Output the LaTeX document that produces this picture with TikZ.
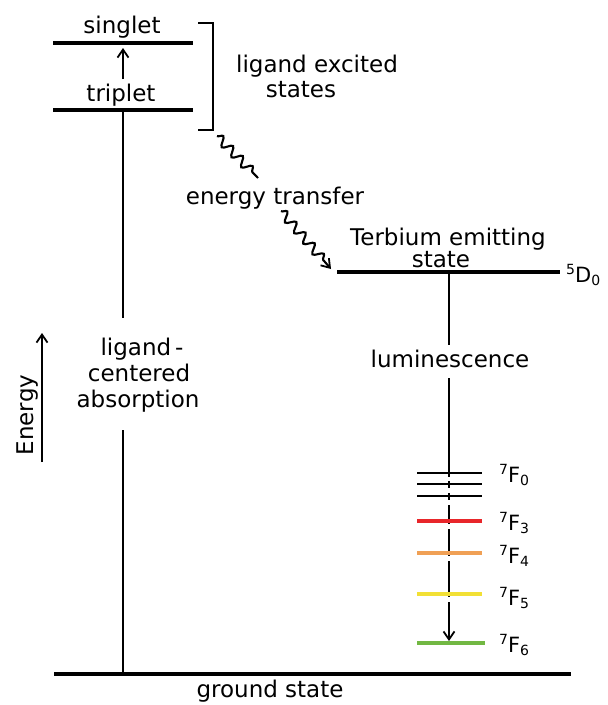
\documentclass[tikz,border=0pt]{standalone}
\usepackage{fontspec}
\setmainfont{DejaVu Sans}
\usetikzlibrary{arrows.meta,decorations.pathmorphing}
\definecolor{lvred}{HTML}{E8262A}
\definecolor{lvorange}{HTML}{F0A055}
\definecolor{lvyellow}{HTML}{F2E035}
\definecolor{lvgreen}{HTML}{72B843}
\newcommand{\termlab}[3]{{\fontsize{14}{14}\selectfont\raisebox{8pt}{#1}}#2{\fontsize{14}{14}\selectfont\raisebox{-3pt}{#3}}}
\begin{document}
\begin{tikzpicture}[x=1pt,y=-1pt,
  lbl/.style={font=\fontsize{23}{28}\selectfont, inner sep=0pt, anchor=base},
  termtxt/.style={font=\fontsize{21}{24}\selectfont, inner sep=0pt, anchor=base west},
  levelline/.style={line width=3.2pt},
  vline/.style={line width=2.2pt},
  uptip/.style={-{Straight Barb[length=8pt,width=11pt,line width=1.8pt]}},
  wavy/.style={line width=2.1pt, decorate, decoration={snake, amplitude=4.5pt, segment length=14pt, post length=4pt}}
]
\useasboundingbox (0,0) rectangle (608,705);

% ligand levels
\coordinate (sL) at (53,43);  \coordinate (sR) at (193,43);
\coordinate (tL) at (53,110); \coordinate (tR) at (193,110);
\draw[levelline] (sL) -- (sR);
\draw[levelline] (tL) -- (tR);
\node[lbl] (singlet) at (122,33) {singlet};
\node[lbl] (triplet) at (121,101) {triplet};
\coordinate (isc0) at (123,79); \coordinate (isc1) at (123,48);
\draw[vline,uptip] (isc0) -- (isc1);

% bracket
\coordinate (b1) at (198,23); \coordinate (b2) at (213,23);
\coordinate (b3) at (213,130); \coordinate (b4) at (198,130);
\draw[line width=2.6pt] (b1) -- (b2) -- (b3) -- (b4);
\node[lbl] (lex) at (317,72) {ligand excited};
\node[lbl] (lst) at (301,97) {states};

% absorption
\coordinate (a0) at (123,111); \coordinate (a1) at (123,318);
\coordinate (a2) at (123,430); \coordinate (a3) at (123,674);
\draw[vline] (a0) -- (a1);
\draw[vline] (a2) -- (a3);
\node[lbl] (lig1) at (142,355) {ligand\kern4pt-};
\node[lbl] (lig2) at (139,381) {centered};
\node[lbl] (lig3) at (138,407) {absorption};

% energy axis
\coordinate (e0) at (42,462); \coordinate (e1) at (42,333);
\draw[vline,uptip] (e0) -- (e1);
\node[inner sep=0pt, font=\fontsize{23}{28}\selectfont] (energy) at (28,415) {\rotatebox{90}{Energy}};

% energy transfer
\coordinate (w0) at (217,136); \coordinate (w1) at (258,178);
\draw[wavy] (w0) -- (w1);
\node[lbl] (etr) at (275,204) {energy transfer};
\coordinate (w2) at (281,211); \coordinate (w3) at (331,269);
\draw[wavy,decoration={post length=9pt},-{Straight Barb[length=8pt,width=11pt,line width=1.8pt]}] (w2) -- (w3);

% terbium emitting state
\coordinate (dL) at (337,272); \coordinate (dR) at (560,272);
\draw[levelline] (dL) -- (dR);
\node[lbl] (tb1) at (448,245) {Terbium emitting};
\node[lbl] (tb2) at (441,267) {state};
\node[termtxt] (d0) at (566,282) {\termlab{5}{D}{0}};

% luminescence
\coordinate (l0) at (449,273); \coordinate (l1) at (449,345);
\draw[vline] (l0) -- (l1);
\node[lbl] (lum) at (450,367) {luminescence};
\coordinate (l2) at (449,378);
\coordinate (g1) at (449,477); \coordinate (g2) at (449,481);
\coordinate (g3) at (449,488); \coordinate (g4) at (449,493);
\coordinate (g5) at (449,500); \coordinate (g6) at (449,505);
\coordinate (g7) at (449,524); \coordinate (g8) at (449,529);
\coordinate (g9) at (449,556); \coordinate (g10) at (449,561);
\coordinate (g11) at (449,597); \coordinate (g12) at (449,602);
\coordinate (l3) at (449,641);
\draw[vline] (l2) -- (g1);
\draw[vline] (g2) -- (g3);
\draw[vline] (g4) -- (g5);
\draw[vline] (g6) -- (g7);
\draw[vline] (g8) -- (g9);
\draw[vline] (g10) -- (g11);
\draw[vline,-{Straight Barb[length=8pt,width=11pt,line width=1.8pt]}] (g12) -- (l3);

% 7F levels
\draw[line width=2.8pt] (417,473) coordinate (f0a) -- (482,473) coordinate (f0b);
\draw[line width=2.8pt] (417,484) coordinate (f1a) -- (482,484) coordinate (f1b);
\draw[line width=2.8pt] (417,496) coordinate (f2a) -- (482,496) coordinate (f2b);
\draw[levelline,lvred] (417,521) coordinate (f3a) -- (482,521) coordinate (f3b);
\draw[levelline,lvorange] (417,553) coordinate (f4a) -- (482,553) coordinate (f4b);
\draw[levelline,lvyellow] (417,594) coordinate (f5a) -- (482,594) coordinate (f5b);
\draw[levelline,lvgreen] (417,643) coordinate (f6a) -- (485,643) coordinate (f6b);
\node[termtxt] (F0) at (499,482) {\termlab{7}{F}{0}};
\node[termtxt] (F3) at (499,530) {\termlab{7}{F}{3}};
\node[termtxt] (F4) at (499,563) {\termlab{7}{F}{4}};
\node[termtxt] (F5) at (499,605) {\termlab{7}{F}{5}};
\node[termtxt] (F6) at (499,652) {\termlab{7}{F}{6}};

% ground state
\coordinate (gL) at (54,674); \coordinate (gR) at (571,674);
\draw[line width=3.6pt] (gL) -- (gR);
\node[lbl] (ground) at (270,697) {ground state};
\end{tikzpicture}
\end{document}
